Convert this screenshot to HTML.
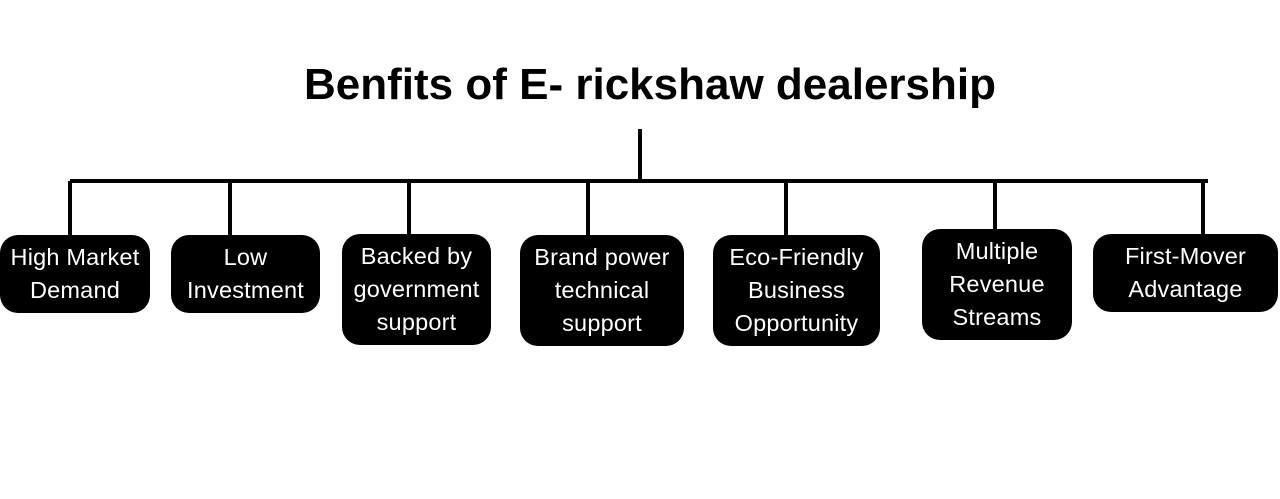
<!DOCTYPE html>
<html><head><style>
body{margin:0;width:1280px;height:499px;background:#fff;position:relative;overflow:hidden;font-family:"Liberation Sans",sans-serif}
.t{position:absolute;left:0;width:1300px;top:60px;text-align:center;font-weight:bold;font-size:44px;color:#000}
.l{position:absolute;background:#000}
.b{position:absolute;background:#000;color:#fff;border-radius:18px;display:flex;align-items:center;justify-content:center;text-align:center;font-size:23.5px;line-height:33px;letter-spacing:0.2px;white-space:nowrap}
</style></head><body>
<div class="t">Benfits of E- rickshaw dealership</div>
<div class="l" style="left:638px;top:129px;width:4px;height:54px"></div>
<div class="l" style="left:70px;top:179px;width:1138px;height:4px"></div>
<div class="l" style="left:68px;top:181px;width:4px;height:56px"></div>
<div class="l" style="left:228px;top:181px;width:4px;height:56px"></div>
<div class="l" style="left:407px;top:181px;width:4px;height:55px"></div>
<div class="l" style="left:586px;top:181px;width:4px;height:56px"></div>
<div class="l" style="left:784px;top:181px;width:4px;height:56px"></div>
<div class="l" style="left:993px;top:181px;width:4px;height:50px"></div>
<div class="l" style="left:1201px;top:181px;width:4px;height:55px"></div>
<div class="b" style="left:0;top:235px;width:150px;height:78px">High Market<br>Demand</div>
<div class="b" style="left:171px;top:235px;width:149px;height:78px">Low<br>Investment</div>
<div class="b" style="left:342px;top:234px;width:149px;height:111px">Backed by<br>government<br>support</div>
<div class="b" style="left:520px;top:235px;width:164px;height:111px">Brand power<br>technical<br>support</div>
<div class="b" style="left:713px;top:235px;width:167px;height:111px">Eco-Friendly<br>Business<br>Opportunity</div>
<div class="b" style="left:922px;top:229px;width:150px;height:111px">Multiple<br>Revenue<br>Streams</div>
<div class="b" style="left:1093px;top:234px;width:185px;height:78px">First-Mover<br>Advantage</div>
</body></html>
